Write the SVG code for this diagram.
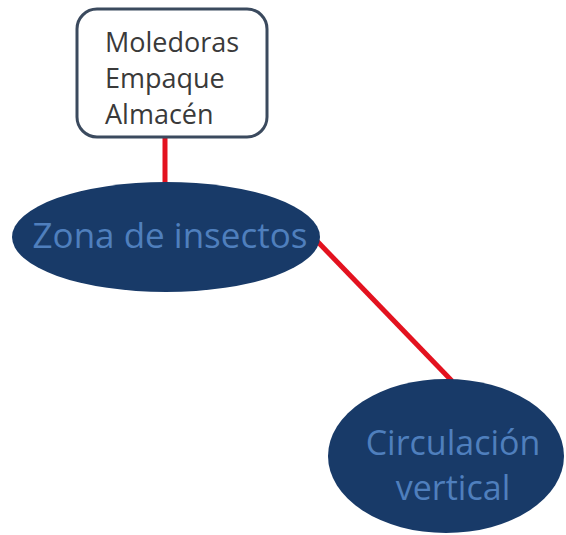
<svg xmlns="http://www.w3.org/2000/svg" width="566" height="535" viewBox="0 0 566 535">
<style>
.box{fill:#ffffff;stroke:#3b4a5e;stroke-width:3}
.ell{fill:#183a68}
.btxt{font-family:"Open Sans","Liberation Sans",sans-serif;font-size:27px;fill:#3a3a3a}
.etxt{font-family:"Open Sans","Liberation Sans",sans-serif;fill:#4f7fbd;text-anchor:middle}
.conn{stroke:#e3121f;stroke-width:5;fill:none}
</style>
<rect width="566" height="535" fill="#ffffff"/>
<g id="connectors">
<line class="conn" x1="165" y1="137" x2="165" y2="184"/>
<line class="conn" x1="316" y1="240" x2="452" y2="381"/>
</g>
<g id="node-lista">
<rect class="box" x="77" y="9" width="190" height="128" rx="20"/>
<text class="btxt" x="105" y="52">Moledoras</text>
<text class="btxt" x="105" y="88">Empaque</text>
<text class="btxt" x="105" y="124">Almacén</text>
</g>
<g id="node-zona">
<ellipse class="ell" cx="166" cy="237" rx="154" ry="55"/>
<text class="etxt" x="170" y="248" font-size="35">Zona de insectos</text>
</g>
<g id="node-circulacion">
<ellipse class="ell" cx="446" cy="456" rx="118" ry="77"/>
<text class="etxt" x="453" y="455" font-size="34">Circulación</text>
<text class="etxt" x="453" y="500" font-size="34">vertical</text>
</g>
</svg>
